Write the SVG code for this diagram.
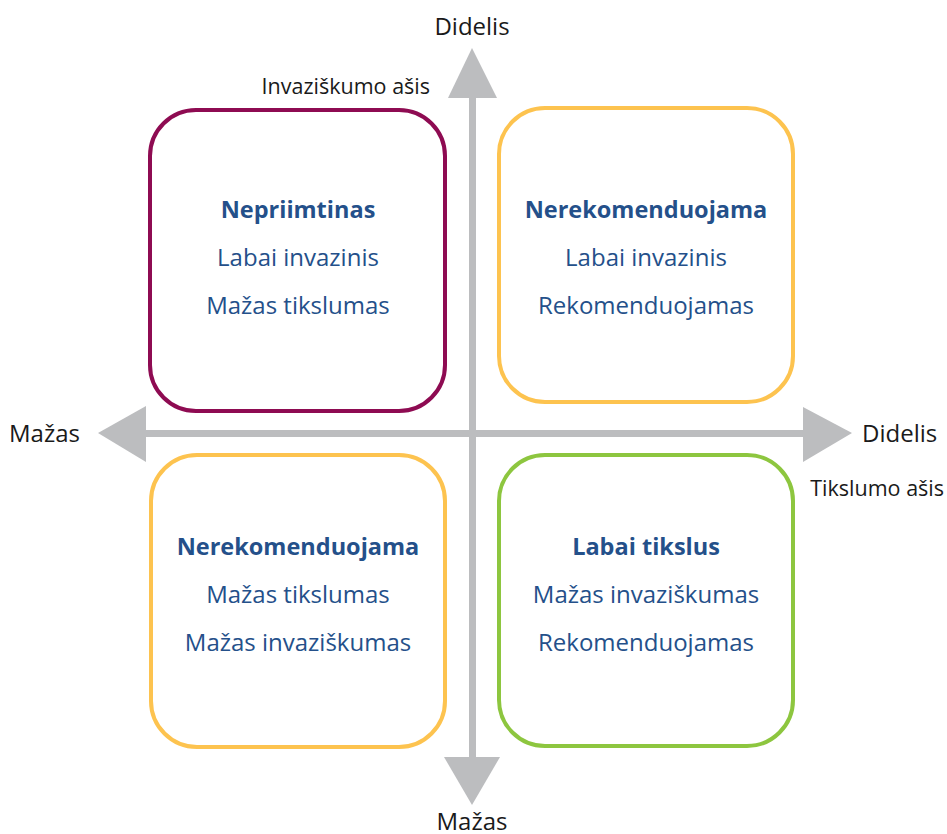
<svg xmlns="http://www.w3.org/2000/svg" width="947" height="834" viewBox="0 0 947 834">
<style>
.box{fill:#fff;stroke-width:4}
.t{font-family:"Open Sans","Noto Sans",sans-serif;font-size:24px;fill:#24508a;text-anchor:middle}
.b{font-weight:bold;font-size:23.5px}
.ax{font-family:"Open Sans","Noto Sans",sans-serif;font-size:24px;fill:#1a1a1a}
.axs{font-family:"Open Sans","Noto Sans",sans-serif;font-size:21.5px;fill:#1a1a1a}
.arr{fill:#bcbdbf}
</style>
<rect width="947" height="834" fill="#fff"/>
<g id="axes">
<rect class="arr" x="469" y="96" width="7" height="663"/>
<rect class="arr" x="144" y="430" width="661" height="7"/>
<polygon class="arr" points="472,48 448,98 497,98"/>
<polygon class="arr" points="472,805 444,757 500,757"/>
<polygon class="arr" points="98,433 146,406 146,462"/>
<polygon class="arr" points="852,433 803,407 803,462"/>
</g>
<g id="labels">
<text class="ax" x="472" y="35" text-anchor="middle">Didelis</text>
<text class="ax" x="472" y="830" text-anchor="middle">Mažas</text>
<text class="ax" x="9" y="442">Mažas</text>
<text class="ax" x="862" y="442">Didelis</text>
<text class="axs" x="430" y="94" text-anchor="end">Invaziškumo ašis</text>
<text class="axs" x="944" y="496" text-anchor="end">Tikslumo ašis</text>
</g>
<g id="q-top-left">
<rect class="box" x="150" y="110" width="295" height="301" rx="46" stroke="#8e0b52"/>
<text class="t b" x="298" y="218">Nepriimtinas</text>
<text class="t" x="298" y="266">Labai invazinis</text>
<text class="t" x="298" y="314">Mažas tikslumas</text>
</g>
<g id="q-top-right">
<rect class="box" x="499" y="108" width="294" height="294" rx="46" stroke="#fdc34f"/>
<text class="t b" x="646" y="218">Nerekomenduojama</text>
<text class="t" x="646" y="266">Labai invazinis</text>
<text class="t" x="646" y="314">Rekomenduojamas</text>
</g>
<g id="q-bottom-left">
<rect class="box" x="151" y="455" width="294" height="292" rx="46" stroke="#fdc34f"/>
<text class="t b" x="298" y="555">Nerekomenduojama</text>
<text class="t" x="298" y="603">Mažas tikslumas</text>
<text class="t" x="298" y="651">Mažas invaziškumas</text>
</g>
<g id="q-bottom-right">
<rect class="box" x="499" y="455" width="294" height="291" rx="46" stroke="#8dc63f"/>
<text class="t b" x="646" y="555">Labai tikslus</text>
<text class="t" x="646" y="603">Mažas invaziškumas</text>
<text class="t" x="646" y="651">Rekomenduojamas</text>
</g>
</svg>
